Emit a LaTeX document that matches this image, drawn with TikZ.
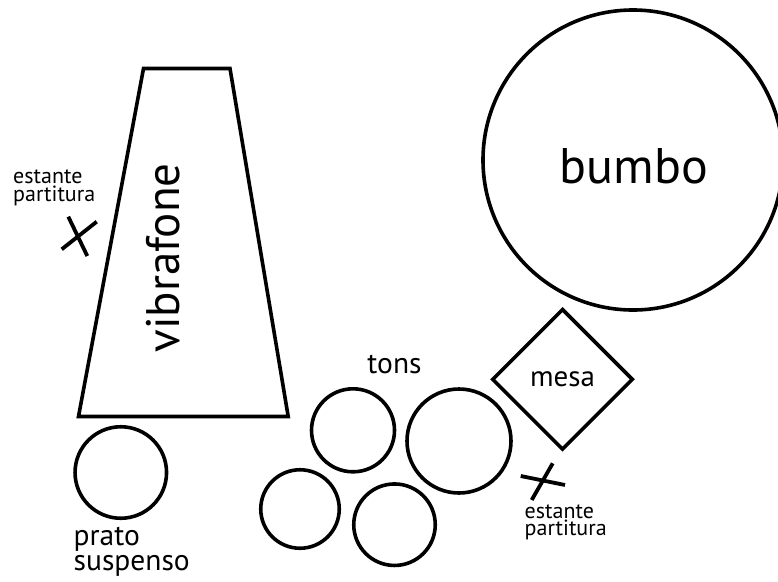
\documentclass[tikz,border=0pt]{standalone}
\usepackage{fontspec}
\setmainfont{PT Sans}
\usetikzlibrary{shapes.geometric}
\tikzset{
  outl/.style={draw=black, line width=3.6pt},
  drum/.style={outl, circle, inner sep=0pt},
  table/.style={outl, diamond, inner sep=0pt, minimum width=141pt, minimum height=141pt, font=\fontsize{29}{29}\selectfont},
  lbl/.style={inner sep=0pt, text=black},
  small/.style={lbl, font=\fontsize{22}{22}\selectfont},
  mid/.style={lbl, font=\fontsize{29.5}{29.5}\selectfont},
  cross/.style={draw=black, line width=3.8pt}
}
\begin{document}
\begin{tikzpicture}[x=1pt, y=-1pt]
\useasboundingbox (0,0) rectangle (778,581);
% vibrafone (trapezoid)
\coordinate (v1) at (143.5,68.5);
\coordinate (v2) at (230,68.5);
\coordinate (v3) at (288.2,416.5);
\coordinate (v4) at (78.5,416.5);
\draw[outl, line join=miter] (v1) -- (v2) -- (v3) -- (v4) -- cycle;
\node[lbl, rotate=90, anchor=base, font=\fontsize{47}{47}\selectfont] (vib) at (179,258) {vibrafone};
% bumbo
\node[drum, minimum size=300pt] (bumbo) at (633,160) {};
\node[lbl, anchor=base, font=\fontsize{50}{50}\selectfont] (bumbotxt) at (634,183) {bumbo};
% mesa
\node[table] (mesa) at (562.5,379.3) {mesa};
% tons
\node[drum, minimum size=83pt] (t1) at (353,430.3) {};
\node[drum, minimum size=104pt] (t2) at (459,441) {};
\node[drum, minimum size=78.5pt] (t3) at (300,509) {};
\node[drum, minimum size=81.5pt] (t4) at (394.5,524.7) {};
\node[mid, anchor=base] (tons) at (394.5,373.5) {tons};
% prato suspenso
\node[drum, minimum size=91.5pt] (prato) at (120.8,472.5) {};
\node[mid, anchor=base west] (prato1) at (73.5,545.7) {prato};
\node[mid, anchor=base west] (prato2) at (73.5,570) {suspenso};
% estante partitura (left)
\coordinate (xa1) at (68.3,216.7);
\coordinate (xa2) at (87.3,256);
\coordinate (xb1) at (61.7,249.3);
\coordinate (xb2) at (96.7,221.7);
\draw[cross] (xa1) -- (xa2);
\draw[cross] (xb1) -- (xb2);
\node[small, anchor=base west] (el1) at (13,183.3) {estante};
\node[small, anchor=base west] (el2) at (13,201.7) {partitura};
% estante partitura (right)
\coordinate (ya1) at (552.7,463.3);
\coordinate (ya2) at (531.7,500);
\coordinate (yb1) at (520.7,476);
\coordinate (yb2) at (565,485);
\draw[cross] (ya1) -- (ya2);
\draw[cross] (yb1) -- (yb2);
\node[small, anchor=base west] (er1) at (524.5,518.3) {estante};
\node[small, anchor=base west] (er2) at (524.5,535.5) {partitura};
\end{tikzpicture}
\end{document}
